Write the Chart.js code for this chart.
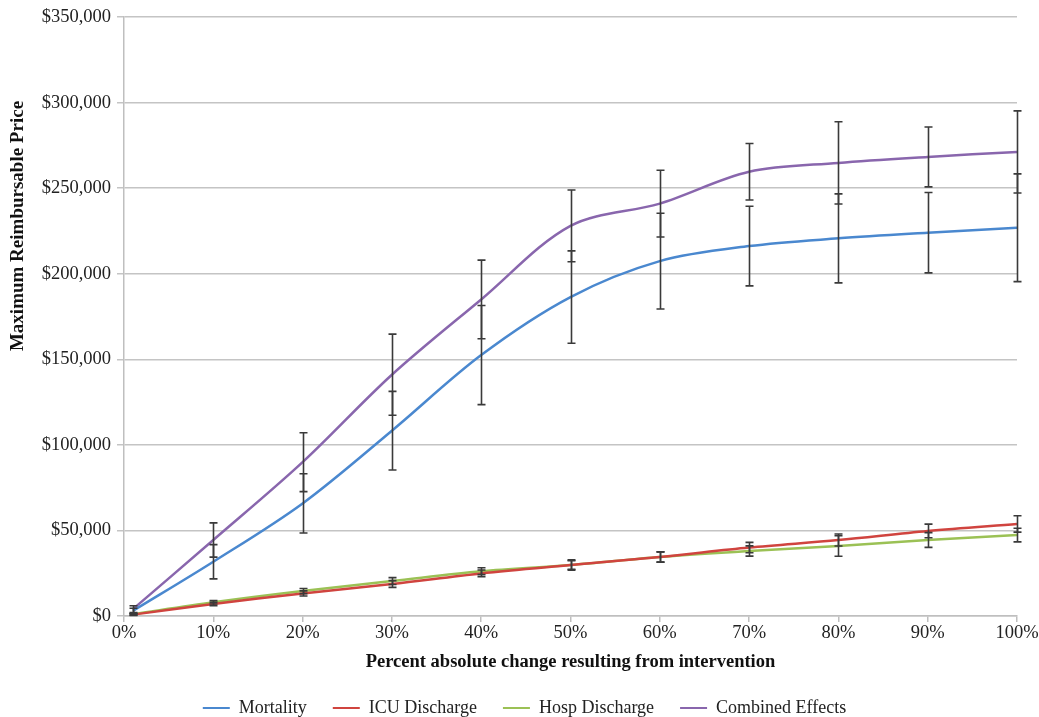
<!DOCTYPE html>
<html>
<head>
<meta charset="utf-8">
<script src="https://cdn.jsdelivr.net/npm/chart.js@4.4.1/dist/chart.umd.min.js"></script>
<style>
html,body{margin:0;padding:0;background:#fff;}
#wrap{width:1039px;height:717px;position:relative;}
</style>
</head>
<body>
<div id="wrap"><canvas id="c" width="1039" height="717"></canvas></div>
<script>
// Data
const xPercents = [1, 10, 20, 30, 40, 50, 60, 70, 80, 90, 100];
const mortality = [3000, 31700, 65800, 108300, 152500, 186400, 207400, 216200, 220700, 224000, 226900];
const mortalityErr = [1500, 10000, 17300, 23000, 29000, 27000, 28000, 23300, 26000, 23500, 31500];
const icuDischarge = [800, 7000, 13200, 18700, 24900, 29800, 34500, 40000, 44400, 49700, 53800];
const icuErr = [500, 1000, 1500, 2000, 2000, 3000, 3000, 3000, 3500, 4000, 4800];
const hospDischarge = [1000, 8000, 14600, 20400, 26200, 29800, 34500, 38000, 40900, 44400, 47300];
const hospErr = [500, 1000, 1500, 2000, 2000, 2500, 3000, 3000, 6000, 4300, 4000];
const combined = [4000, 44400, 89900, 141000, 185000, 228000, 241000, 259600, 264800, 268300, 271200];
const combinedErr = [2000, 10000, 17200, 23700, 23000, 21000, 19500, 16500, 24000, 17500, 24000];
const seriesNames = ['Mortality', 'ICU Discharge', 'Hosp Discharge', 'Combined Effects'];
const yAxisTitle = 'Maximum Reimbursable Price';
const xAxisTitle = 'Percent absolute change resulting from intervention';

const FONT = "'Liberation Serif', 'Times New Roman', serif";
const toPts = (vals) => vals.map((v, i) => ({x: xPercents[i], y: v}));

const errorBarPlugin = {
  id: 'errorBars',
  afterDatasetsDraw(chart) {
    const ctx = chart.ctx;
    const xs = chart.scales.x, ys = chart.scales.y;
    ctx.save();
    ctx.strokeStyle = '#3a3a3a';
    ctx.lineWidth = 1.6;
    chart.data.datasets.forEach((ds) => {
      const errs = ds.errors;
      ds.data.forEach((p, i) => {
        const e = errs[i];
        const px = Math.round(xs.getPixelForValue(p.x)) + 0.5;
        const yTop = ys.getPixelForValue(p.y + e);
        const yBot = ys.getPixelForValue(p.y - e);
        ctx.beginPath();
        ctx.moveTo(px, yTop); ctx.lineTo(px, yBot);
        ctx.moveTo(px - 4, yTop); ctx.lineTo(px + 4, yTop);
        ctx.moveTo(px - 4, yBot); ctx.lineTo(px + 4, yBot);
        ctx.stroke();
      });
    });
    ctx.restore();
  }
};

// Legend box sizing + y-axis title placed like the original (offset upward)
const layoutPlugin = {
  id: 'layoutTweaks',
  beforeLayout(chart) {
    const lg = chart.legend;
    if (lg && !lg._patched) {
      const orig = lg.fit.bind(lg);
      lg.fit = function () { orig(); this.height = 44; };
      lg._patched = true;
    }
  },
  afterLayout(chart) {
    const lg = chart.legend;
    if (lg) { lg.left += 16; lg.right += 16; }
  },
  afterDraw(chart) {
    const ctx = chart.ctx;
    ctx.save();
    ctx.translate(18, 226);
    ctx.rotate(-Math.PI / 2);
    ctx.font = "bold 19px " + FONT;
    ctx.fillStyle = '#111';
    ctx.textAlign = 'center';
    ctx.textBaseline = 'middle';
    ctx.fillText(yAxisTitle, 0, 0);
    ctx.restore();
  }
};

const mk = (label, data, errs, color) => ({
  label, data: toPts(data), errors: errs,
  borderColor: color, backgroundColor: color,
  borderWidth: 2.5, pointRadius: 0, pointHoverRadius: 0,
  tension: 0.33, fill: false
});

new Chart(document.getElementById('c'), {
  type: 'line',
  data: {
    datasets: [
      mk(seriesNames[0], mortality, mortalityErr, '#4A88CF'),
      mk(seriesNames[1], icuDischarge, icuErr, '#D0443F'),
      mk(seriesNames[2], hospDischarge, hospErr, '#9BC155'),
      mk(seriesNames[3], combined, combinedErr, '#8966AD')
    ]
  },
  plugins: [errorBarPlugin, layoutPlugin],
  options: {
    responsive: false,
    animation: false,
    events: [],
    layout: {padding: {top: 17, right: 22, left: 0, bottom: 0}},
    plugins: {
      tooltip: {enabled: false},
      legend: {
        position: 'bottom',
        labels: {
          font: {family: FONT, size: 18},
          color: '#222',
          usePointStyle: true,
          pointStyle: 'line',
          pointStyleWidth: 27,
          boxHeight: 18,
          padding: 26,
          generateLabels(chart) {
            return chart.data.datasets.map((ds, i) => ({
              text: ds.label, fillStyle: ds.borderColor, strokeStyle: ds.borderColor,
              lineWidth: 2, pointStyle: 'line', hidden: false, datasetIndex: i, fontColor: '#222'
            }));
          }
        }
      }
    },
    scales: {
      x: {
        type: 'linear', min: 0, max: 100,
        afterFit(scale) { scale.height = 57; },
        ticks: {stepSize: 10, font: {family: FONT, size: 18.5}, color: '#222', padding: 0,
          callback: (v) => v + '%', maxRotation: 0},
        grid: {drawOnChartArea: false, drawTicks: true, tickLength: 6, color: '#bfbfbf', lineWidth: 1.5},
        border: {color: '#bfbfbf', width: 1.5},
        title: {display: true, text: xAxisTitle,
          font: {family: FONT, size: 18.5, weight: 'bold'}, color: '#111', padding: {top: 0, bottom: 0}}
      },
      y: {
        min: 0, max: 350000,
        afterFit(scale) { scale.width = 124; },
        ticks: {stepSize: 50000, font: {family: FONT, size: 18.5}, color: '#222', padding: 6,
          callback: (v) => '$' + v.toLocaleString('en-US')},
        grid: {color: '#c4c4c4', lineWidth: 1.5, tickLength: 7, drawTicks: true},
        border: {color: '#bfbfbf', width: 1.5},
        title: {display: false, text: yAxisTitle}
      }
    }
  }
});
</script>
</body>
</html>
